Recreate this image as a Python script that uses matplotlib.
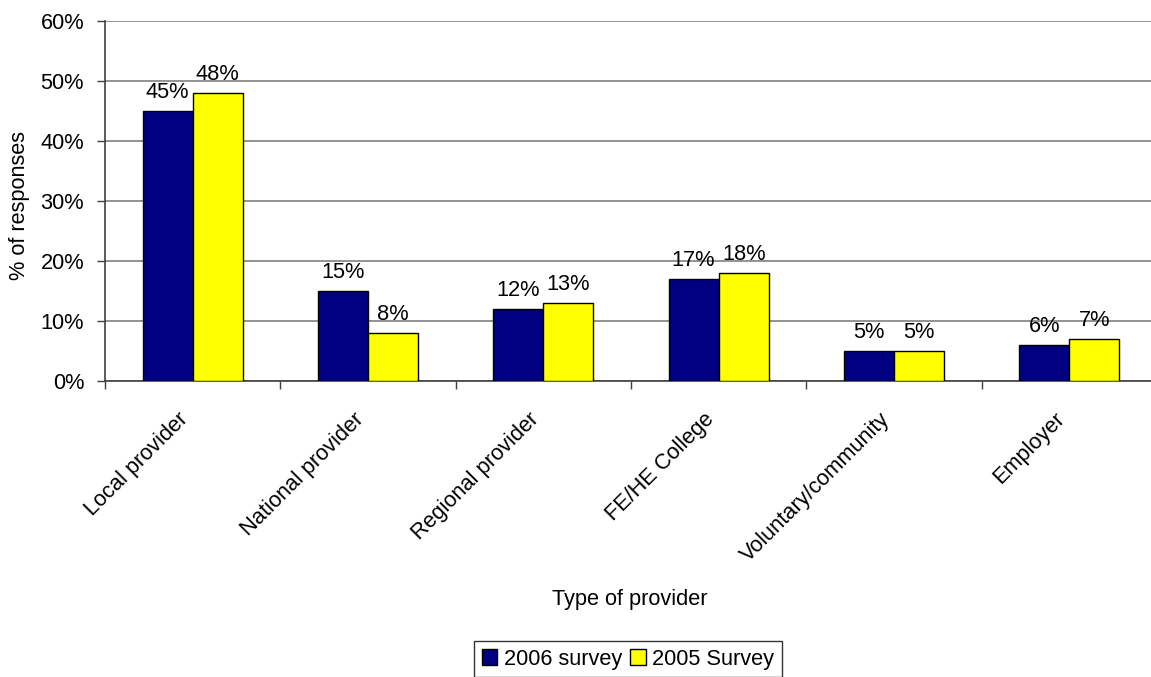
import matplotlib
matplotlib.use("Agg")
import matplotlib.pyplot as plt
import matplotlib.transforms as mtransforms
import numpy as np

categories = ["Local provider", "National provider", "Regional provider",
              "FE/HE College", "Voluntary/community", "Employer"]
survey_2006 = [45, 15, 12, 17, 5, 6]
survey_2005 = [48, 8, 13, 18, 5, 7]
series_names = ["2006 survey", "2005 Survey"]
y_ticks = [0, 10, 20, 30, 40, 50, 60]

plt.rcParams["font.family"] = ["Liberation Sans", "DejaVu Sans"]
FS = 15.7

fig = plt.figure(figsize=(11.51, 6.77), dpi=100)
W, H = 1151, 677
# plot area runs slightly past the right edge of the canvas
ax = fig.add_axes([105 / W, 1 - 381 / H, 1052 / W, 360 / H])

x = np.arange(len(categories))
bw = 1 / 3.5
b1 = ax.bar(x - bw / 2, survey_2006, bw, color="#000080", edgecolor="black",
            linewidth=1, label=series_names[0], zorder=3)
b2 = ax.bar(x + bw / 2, survey_2005, bw, color="#FFFF00", edgecolor="black",
            linewidth=1, label=series_names[1], zorder=3)

for bars, vals in ((b1, survey_2006), (b2, survey_2005)):
    for rect, v in zip(bars, vals):
        ax.annotate(f"{v}%", (rect.get_x() + rect.get_width() / 2, v),
                    xytext=(0, 6), textcoords="offset points",
                    ha="center", va="bottom", fontsize=FS)

ax.set_xlim(-0.5, len(categories) - 0.5)
ax.set_ylim(0, 60)
ax.set_yticks(y_ticks)
ax.set_yticklabels([f"{t}%" for t in y_ticks], fontsize=FS)
ax.yaxis.grid(True, color="#808080", linewidth=1.2, zorder=0)
ax.set_axisbelow(True)

ax.set_xticks(x)
ax.set_xticklabels(categories, rotation=45, ha="right", va="top",
                   rotation_mode="anchor", fontsize=FS)
ax.tick_params(axis="x", which="major", length=0, pad=20)
shift = mtransforms.ScaledTranslation(-15 / 100, 0, fig.dpi_scale_trans)
for lbl in ax.get_xticklabels():
    lbl.set_transform(lbl.get_transform() + shift)
ax.set_xticks(np.arange(-0.5, len(categories), 1), minor=True)
ax.tick_params(axis="x", which="minor", length=5.5, width=1, color="#404040",
               direction="out")
ax.tick_params(axis="y", length=6, width=1, color="#404040", pad=9)

for side in ("top", "right"):
    ax.spines[side].set_visible(False)
for side in ("left", "bottom"):
    ax.spines[side].set_color("#404040")
    ax.spines[side].set_linewidth(1.2)

fig.text(20 / W, 1 - 205 / H, "% of responses", rotation=90,
         ha="center", va="center", fontsize=FS)
fig.text(630 / W, 1 - 600 / H, "Type of provider",
         ha="center", va="center", fontsize=FS)

leg = fig.legend(handles=[b1, b2], labels=series_names, loc="upper center",
                 bbox_to_anchor=(628 / W, 1 - 641 / H), ncol=2, fontsize=FS,
                 frameon=True, fancybox=False, edgecolor="black",
                 handlelength=0.7, handleheight=0.7, handletextpad=0.3,
                 columnspacing=0.4, borderpad=0.35, borderaxespad=0)
leg.get_frame().set_linewidth(1)

fig.savefig("out.png", dpi=100, facecolor="white")
